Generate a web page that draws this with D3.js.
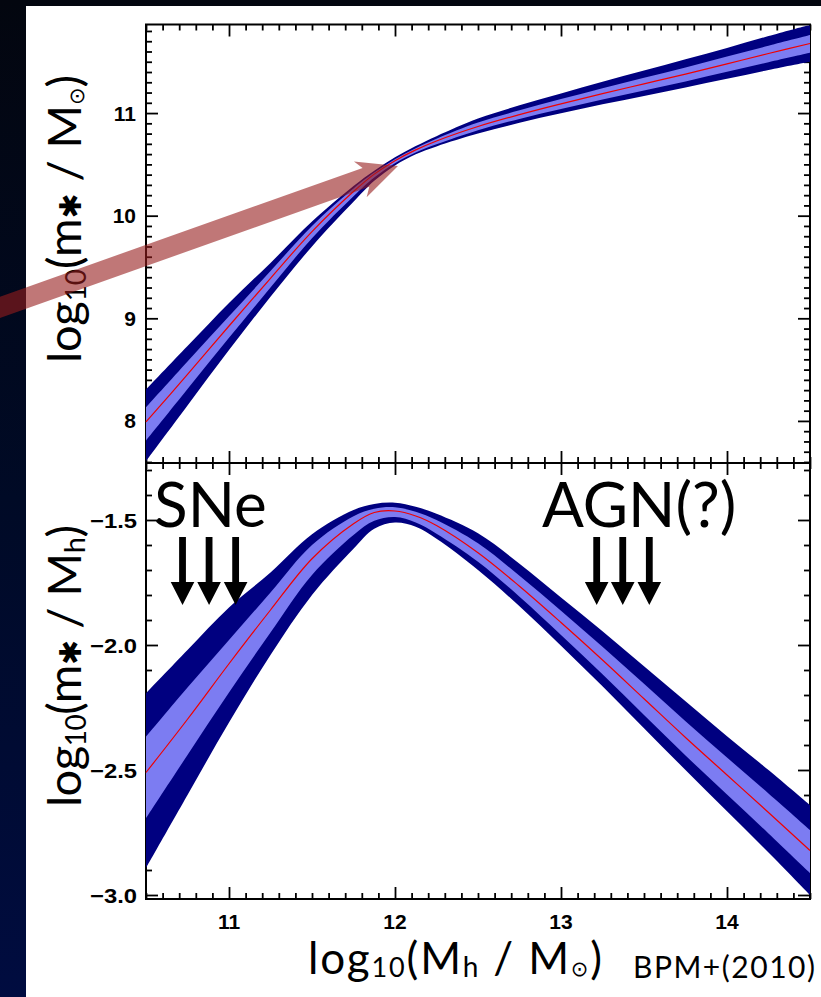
<!DOCTYPE html>
<html>
<head>
<meta charset="utf-8">
<script src="https://cdn.jsdelivr.net/npm/d3@7"></script>
<style>
  html, body { margin: 0; padding: 0; background: #000; }
  svg { display: block; }
</style>
</head>
<body>
<svg id="fig" width="821" height="997"></svg>
<script>
// ---- data -------------------------------------------------------------
// halo mass grid, log10(Mh / Msun)
const haloMass = [10.5, 10.75, 11.0, 11.25, 11.5, 11.75, 11.875, 12.0, 12.125, 12.25, 12.5,
                  12.75, 13.0, 13.25, 13.5, 13.75, 14.0, 14.25, 14.5];

// stellar mass, log10(m* / Msun): median and the two uncertainty envelopes
const stellarMid     = [7.99, 8.453, 8.925, 9.39, 9.845, 10.235, 10.405, 10.536, 10.641, 10.728, 10.869,
                        10.985, 11.09, 11.19, 11.285, 11.38, 11.48, 11.58, 11.678];
const stellarOuterHi = [8.307, 8.73, 9.15, 9.54, 9.943, 10.29, 10.439, 10.569, 10.678, 10.775, 10.947,
                        11.075, 11.19, 11.305, 11.415, 11.525, 11.635, 11.75, 11.86];
const stellarInnerHi = [8.133, 8.58, 9.02, 9.46, 9.90, 10.265, 10.42, 10.551, 10.658, 10.75, 10.907,
                        11.027, 11.137, 11.243, 11.345, 11.445, 11.55, 11.656, 11.76];
const stellarInnerLo = [7.807, 8.31, 8.81, 9.30, 9.78, 10.19, 10.372, 10.512, 10.615, 10.695, 10.833,
                        10.943, 11.04, 11.133, 11.22, 11.308, 11.402, 11.496, 11.588];
const stellarOuterLo = [7.607, 8.15, 8.69, 9.21, 9.70, 10.135, 10.34, 10.49, 10.598, 10.675, 10.80,
                        10.905, 10.997, 11.085, 11.167, 11.25, 11.335, 11.42, 11.50];

// stellar-to-halo mass ratio, log10(m* / Mh)
const ratioMid     = [-2.51, -2.297, -2.075, -1.86, -1.655, -1.515, -1.47, -1.464, -1.484, -1.522, -1.631,
                      -1.765, -1.91, -2.06, -2.215, -2.37, -2.52, -2.67, -2.822];
const ratioOuterHi = [-2.193, -2.02, -1.85, -1.71, -1.557, -1.46, -1.436, -1.431, -1.447, -1.475, -1.553,
                      -1.675, -1.81, -1.945, -2.085, -2.225, -2.365, -2.50, -2.64];
const ratioInnerHi = [-2.367, -2.17, -1.98, -1.79, -1.60, -1.485, -1.455, -1.449, -1.467, -1.50, -1.593,
                      -1.723, -1.863, -2.007, -2.155, -2.305, -2.45, -2.594, -2.74];
const ratioInnerLo = [-2.693, -2.44, -2.19, -1.95, -1.72, -1.56, -1.503, -1.488, -1.51, -1.555, -1.667,
                      -1.807, -1.96, -2.117, -2.28, -2.442, -2.598, -2.754, -2.912];
const ratioOuterLo = [-2.893, -2.60, -2.31, -2.04, -1.80, -1.615, -1.535, -1.51, -1.527, -1.575, -1.70,
                      -1.845, -2.003, -2.165, -2.333, -2.50, -2.665, -2.83, -3.0];

// tick values and labels
const xTicks      = [11, 12, 13, 14];
const xTickLabels = ["11", "12", "13", "14"];
const stellarTicks      = [8, 9, 10, 11];
const stellarTickLabels = ["8", "9", "10", "11"];
const ratioTicks      = [-3.0, -2.5, -2.0, -1.5];
const ratioTickLabels = ["\u22123.0", "\u22122.5", "\u22122.0", "\u22121.5"];

// feedback annotations: arrow positions in halo mass, drawn in the ratio panel
const snArrowsX  = [10.72, 10.88, 11.04];
const agnArrowsX = [13.215, 13.372, 13.532];
const feedbackArrowTop = -1.568;
const feedbackArrowTip = -1.84;

// pointer arrow onto the knee of the stellar mass relation (halo mass, stellar mass)
const kneeArrowTail = [9.59, 9.09];
const kneeArrowTip  = [12.018, 10.484];

// ---- layout ----------------------------------------------------------
const W = 821, H = 997;
const X0 = 146, X1 = 810;
const TOP_Y0 = 24.5, TOP_Y1 = 463;
const BOT_Y0 = 463, BOT_Y1 = 899;

const NAVY = "#000080", LIGHT = "#7c7cf2", RED = "#f00000";

const svg = d3.select("#fig");
const defs = svg.append("defs");

const grad = defs.append("linearGradient")
  .attr("id", "slideBg").attr("x1", 0).attr("y1", 0).attr("x2", 0).attr("y2", 1);
grad.append("stop").attr("offset", "0%").attr("stop-color", "#03060f");
grad.append("stop").attr("offset", "50%").attr("stop-color", "#000a26");
grad.append("stop").attr("offset", "100%").attr("stop-color", "#000c40");

svg.append("rect").attr("width", W).attr("height", H).attr("fill", "url(#slideBg)");
svg.append("rect").attr("x", 26).attr("y", 6).attr("width", W - 26).attr("height", H - 6)
  .attr("fill", "#ffffff");

// ---- scales ----------------------------------------------------------
const x = d3.scaleLinear().domain([10.5, 14.5]).range([X0, X1]);
const yStellar = d3.scaleLinear().domain([7.59, 11.863]).range([TOP_Y1, TOP_Y0]);
const yRatio = d3.scaleLinear().domain([-3.016, -1.272]).range([BOT_Y1, BOT_Y0]);

const isWhole = (v, step) => Math.abs(v / step - Math.round(v / step)) < 1e-6;
const xMinor = d3.range(105, 146).map(d => d / 10).filter(d => !isWhole(d, 1));
const stellarMinor = d3.range(76, 119).map(d => d / 10).filter(d => !isWhole(d, 1));
const ratioMinor = d3.range(-30, -12).map(d => d / 10).filter(d => !isWhole(d, 0.5));

// ticks on all four sides, pointing into the panel
function drawFrame(y, majorY, minorY) {
  const [yb, yt] = y.range();
  const g = svg.append("g").attr("color", "#000");
  const specs = [
    [d3.axisBottom(x), `translate(0,${yb})`, xTicks, xMinor],
    [d3.axisTop(x), `translate(0,${yt})`, xTicks, xMinor],
    [d3.axisLeft(y), `translate(${X0},0)`, majorY, minorY],
    [d3.axisRight(y), `translate(${X1},0)`, majorY, minorY]
  ];
  specs.forEach(([axis, tr, major, minor]) => {
    const gm = g.append("g").attr("transform", tr)
      .call(axis.tickValues(major).tickSizeInner(-12).tickSizeOuter(0).tickFormat(""));
    gm.select(".domain").remove();
    const gn = g.append("g").attr("transform", tr)
      .call(axis.tickValues(minor).tickSizeInner(-6).tickSizeOuter(0).tickFormat(""));
    gn.select(".domain").remove();
  });
  g.selectAll("line").attr("stroke-width", 1.8);
  g.append("rect").attr("x", X0).attr("y", yt).attr("width", X1 - X0).attr("height", yb - yt)
    .attr("fill", "none").attr("stroke", "#000").attr("stroke-width", 2);
}

drawFrame(yStellar, stellarTicks, stellarMinor);
drawFrame(yRatio, ratioTicks, ratioMinor);

// ---- bands and median curves -----------------------------------------
function drawBands(id, y, y0, y1, outerLo, outerHi, innerLo, innerHi, mid) {
  defs.append("clipPath").attr("id", id)
    .append("rect").attr("x", X0 - 1).attr("y", y0 + 1).attr("width", X1 - X0 + 2).attr("height", y1 - y0 - 1);
  const g = svg.append("g").attr("clip-path", `url(#${id})`);
  const band = (lo, hi) => d3.area()
    .x((d, i) => x(haloMass[i]))
    .y0((d, i) => y(lo[i]))
    .y1((d, i) => y(hi[i]))
    .curve(d3.curveCatmullRom.alpha(0.5))(haloMass);
  g.append("path").attr("d", band(outerLo, outerHi)).attr("fill", NAVY);
  g.append("path").attr("d", band(innerLo, innerHi)).attr("fill", LIGHT);
  const line = d3.line()
    .x((d, i) => x(haloMass[i]))
    .y((d, i) => y(mid[i]))
    .curve(d3.curveCatmullRom.alpha(0.5));
  g.append("path").attr("d", line(haloMass)).attr("fill", "none")
    .attr("stroke", RED).attr("stroke-width", 1.2);
}

drawBands("clipTop", yStellar, TOP_Y0, TOP_Y1,
  stellarOuterLo, stellarOuterHi, stellarInnerLo, stellarInnerHi, stellarMid);
drawBands("clipBottom", yRatio, BOT_Y0, BOT_Y1,
  ratioOuterLo, ratioOuterHi, ratioInnerLo, ratioInnerHi, ratioMid);

// ---- tick labels -----------------------------------------------------
const tickFont = "'Liberation Sans', Arial, sans-serif";
const labels = svg.append("g").attr("font-family", tickFont).attr("font-weight", "bold")
  .attr("font-size", 21).attr("fill", "#000");

labels.selectAll("text.sy").data(stellarTicks).join("text")
  .attr("x", X0 - 10).attr("y", d => yStellar(d)).attr("dy", "0.36em")
  .attr("text-anchor", "end").text((d, i) => stellarTickLabels[i]);

labels.selectAll("text.ry").data(ratioTicks).join("text")
  .attr("x", X0 - 9).attr("y", d => yRatio(d)).attr("dy", "0.36em")
  .attr("text-anchor", "end").attr("textLength", 47).attr("lengthAdjust", "spacingAndGlyphs")
  .text((d, i) => ratioTickLabels[i]);

labels.selectAll("text.x").data(xTicks).join("text")
  .attr("x", d => x(d)).attr("y", BOT_Y1 + 30)
  .attr("text-anchor", "middle").text((d, i) => xTickLabels[i]);

// ---- axis titles -----------------------------------------------------
const titleFont = "Lato, 'Open Sans', sans-serif";
const symFont = "'DejaVu Sans', sans-serif";

function addParts(t, parts) {
  parts.forEach(p => {
    const s = t.append("tspan").text(p.t);
    if (p.size) s.attr("font-size", p.size);
    if (p.dy) s.attr("dy", p.dy);
    if (p.font) s.attr("font-family", p.font);
  });
}

function yTitle(cy, parts, len) {
  const t = svg.append("text")
    .attr("transform", `translate(81,${cy}) rotate(-90)`)
    .attr("text-anchor", "middle")
    .attr("font-family", titleFont).attr("font-size", 47).attr("fill", "#000")
    .attr("textLength", len).attr("lengthAdjust", "spacing");
  addParts(t, parts);
  return t;
}

yTitle(219, [
  { t: "log" }, { t: "10", size: 28, dy: 5 }, { t: "(m", dy: -5 },
  { t: "\u2731", font: symFont, size: 30 }, { t: " / M" },
  { t: "\u2299", font: symFont, size: 21, dy: 3 }, { t: ")", dy: -3 }
], 288);

yTitle(666, [
  { t: "log" }, { t: "10", size: 28, dy: 5 }, { t: "(m", dy: -5 },
  { t: "\u2731", font: symFont, size: 30 }, { t: " / M" },
  { t: "h", size: 29, dy: 4 }, { t: ")", dy: -4 }
], 282);

const xt = svg.append("text")
  .attr("x", 455).attr("y", 974).attr("text-anchor", "middle")
  .attr("font-family", titleFont).attr("font-size", 44).attr("fill", "#000")
  .attr("textLength", 294).attr("lengthAdjust", "spacing");
addParts(xt, [
  { t: "log" }, { t: "10", size: 27, dy: 3 }, { t: "(M", dy: -3 },
  { t: "h", size: 28, dy: 3 }, { t: " / M", dy: -3 },
  { t: "\u2299", font: symFont, size: 21, dy: 2 }, { t: ")", dy: -2 }
]);

svg.append("text").attr("x", 633).attr("y", 978)
  .attr("font-family", titleFont).attr("font-size", 30).attr("fill", "#000")
  .attr("textLength", 182).attr("lengthAdjust", "spacing")
  .text("BPM+(2010)");

// ---- arrows ----------------------------------------------------------
function blockArrow(p0, p1, shaftHalf, headLen, headHalf, notch) {
  const dx = p1[0] - p0[0], dy = p1[1] - p0[1];
  const L = Math.hypot(dx, dy);
  const d = [dx / L, dy / L], n = [-d[1], d[0]];
  const at = (s, w) => [p1[0] - s * d[0] + w * n[0], p1[1] - s * d[1] + w * n[1]];
  const pts = [
    [p0[0] + shaftHalf * n[0], p0[1] + shaftHalf * n[1]],
    at(headLen - notch, shaftHalf),
    at(headLen, headHalf),
    p1,
    at(headLen, -headHalf),
    at(headLen - notch, -shaftHalf),
    [p0[0] - shaftHalf * n[0], p0[1] - shaftHalf * n[1]]
  ];
  return "M" + pts.map(p => p.join(",")).join("L") + "Z";
}

// feedback labels and their arrows
const annot = svg.append("g").attr("font-family", titleFont).attr("font-size", 62).attr("fill", "#000");
annot.append("text").attr("x", 154).attr("y", 527).text("SNe");
annot.append("text").attr("x", 542).attr("y", 527).text("AGN(?)");

[...snArrowsX, ...agnArrowsX].forEach(m => {
  svg.append("path")
    .attr("d", blockArrow([x(m), yRatio(feedbackArrowTop)], [x(m), yRatio(feedbackArrowTip)], 3.4, 23, 11.8, 0))
    .attr("fill", "#000");
});

// translucent pointer arrow on the knee
const tail = [x(kneeArrowTail[0]), yStellar(kneeArrowTail[1])];
const tip = [x(kneeArrowTip[0]), yStellar(kneeArrowTip[1])];
svg.append("path")
  .attr("d", blockArrow(tail, tip, 10, 40, 19, 6))
  .attr("fill", "rgb(150,28,28)").attr("fill-opacity", 0.6);
</script>
</body>
</html>
